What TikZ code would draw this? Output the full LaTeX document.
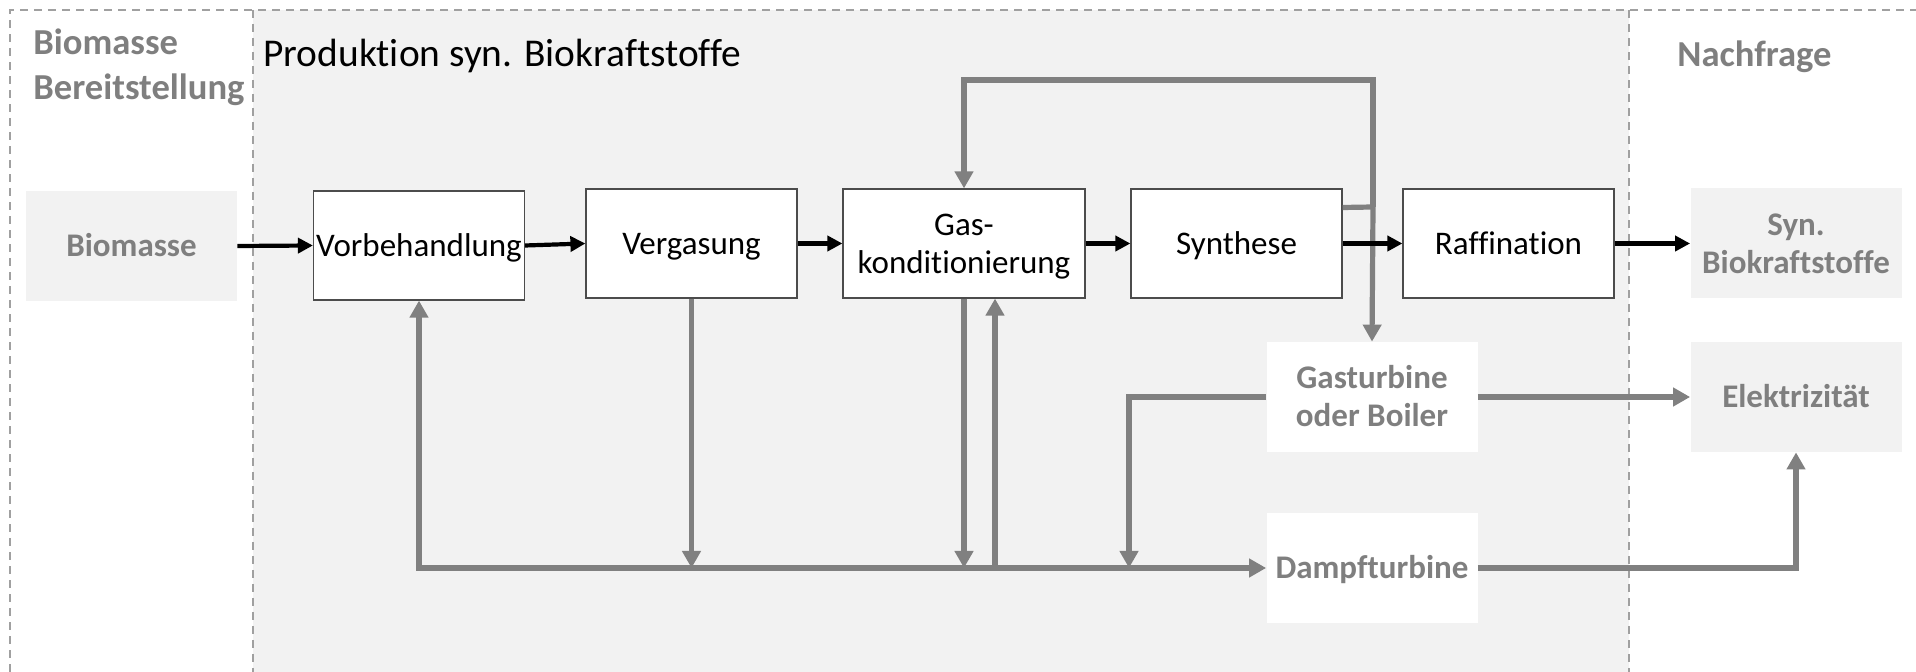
\documentclass[tikz,border=0pt]{standalone}
\usepackage{fontspec}
\setmainfont{Carlito}[Ligatures={NoCommon}]
\usetikzlibrary{arrows.meta}
\definecolor{panel}{HTML}{F2F2F2}
\definecolor{txtgray}{HTML}{7F7F7F}
\definecolor{flowgray}{HTML}{808080}
\definecolor{dashgray}{HTML}{A0A0A0}
% line strut: keeps every label line at the same height and depth
\newcommand{\lnstrut}{\rule[-4pt]{0pt}{19pt}}

\begin{document}
\begin{tikzpicture}[x=0.5pt,y=-0.5pt,
  labelfont/.style={font=\fontsize{16.5}{19}\selectfont, align=center, inner sep=0pt},
  procbox/.style={labelfont, draw=black!70, line width=0.6pt, fill=white,
    minimum width=105.5pt, minimum height=54.5pt},
  sinkbox/.style={labelfont, font=\fontsize{16.5}{19}\selectfont\bfseries, text=txtgray,
    fill=panel, minimum width=105.5pt, minimum height=55pt},
  plantbox/.style={sinkbox, fill=white},
  header/.style={font=\fontsize{18.3}{22.5}\selectfont\bfseries, text=txtgray,
    align=left, inner sep=0pt},
  frame/.style={draw=dashgray, line width=1pt, dash pattern=on 4pt off 3pt},
  mainflow/.style={draw=black, line width=2.1pt, -{Triangle[length=7.5pt,width=7.5pt]}},
  sideflow/.style={draw=flowgray, line width=2.6pt, -{Triangle[length=8.5pt,width=9pt]}},
  sideline/.style={draw=flowgray, line width=2.6pt}
]
\useasboundingbox (0,0) rectangle (1916,672);

% production area and section dividers
\fill[panel] (253,10) rectangle (1629,672);
\draw[frame] (10,672) -- (10,10) -- (1916,10);
\draw[frame] (253,10) -- (253,672);
\draw[frame] (1629,10) -- (1629,672);

% section headers
\node[header, anchor=north west] (hbio) at (33,18.5) {\rule{0pt}{18pt}Biomasse\\Bereitstellung};
\node[font=\fontsize{19.7}{24}\selectfont, anchor=base west, inner sep=0pt] (hprod) at (263,67) {Produktion syn. Biokraftstoffe};
\node[header, anchor=base west] (hdem) at (1677,67) {Nachfrage};

% process chain
\node[sinkbox] (bio) at (131.5,246) {\lnstrut Biomasse};
\node[procbox] (vor) at (419,245.5) {\lnstrut Vorbehandlung};
\node[procbox] (verg) at (691.5,243.5) {\lnstrut Vergasung};
\node[procbox, minimum width=121pt] (gas) at (964,243.5) {\lnstrut Gas-\\\lnstrut konditionierung};
\node[procbox] (syn) at (1236.5,243.5) {\lnstrut Synthese};
\node[procbox] (raf) at (1508.5,243.5) {\lnstrut Raffination};
\node[sinkbox] (sbk) at (1796,243.5) {\lnstrut Syn.\\\lnstrut Biokraftstoffe};

% power generation and demand
\node[plantbox] (gt) at (1372,397) {\lnstrut Gasturbine\\\lnstrut oder Boiler};
\node[sinkbox] (el) at (1796,397) {\lnstrut Elektrizität};
\node[plantbox] (dt) at (1372,568) {\lnstrut Dampfturbine};

% helper points of the gas and steam lines
\coordinate (junc) at (1373,207);
\coordinate (loop) at (1373,80);
\coordinate (gtdrop) at (1129,568);

% off-gas of the synthesis: recycle and fuel for the gas turbine
\draw[sideline] ([yshift=18pt]syn.east) -- (junc);
\draw[sideflow] (junc) -- (loop) -| (gas.north);
\draw[sideflow] (junc) -- (gt.north);

% steam network
\draw[draw=flowgray, line width=2.6pt,
  {Triangle[length=8.5pt,width=9pt]}-{Triangle[length=8.5pt,width=9pt]}]
  (vor.south) |- (dt.west);
\draw[sideflow] (verg.south) -- (verg.south |- dt.west);
\draw[sideflow] (gas.south) -- (gas.south |- dt.west);
\draw[sideflow] ([xshift=15.5pt]gas.south |- dt.west) -- ([xshift=15.5pt]gas.south);
\draw[sideflow] (gt.west) -| (gtdrop);

% electricity
\draw[sideflow] (gt.east) -- (el.west);
\draw[sideflow] (dt.east) -| (el.south);

% main product chain
\draw[mainflow] (bio.east) -- (vor.west);
\draw[mainflow] (vor.east) -- (verg.west);
\draw[mainflow] (verg.east) -- (gas.west);
\draw[mainflow] (gas.east) -- (syn.west);
\draw[mainflow] (syn.east) -- (raf.west);
\draw[mainflow] (raf.east) -- (sbk.west);
\end{tikzpicture}
\end{document}
